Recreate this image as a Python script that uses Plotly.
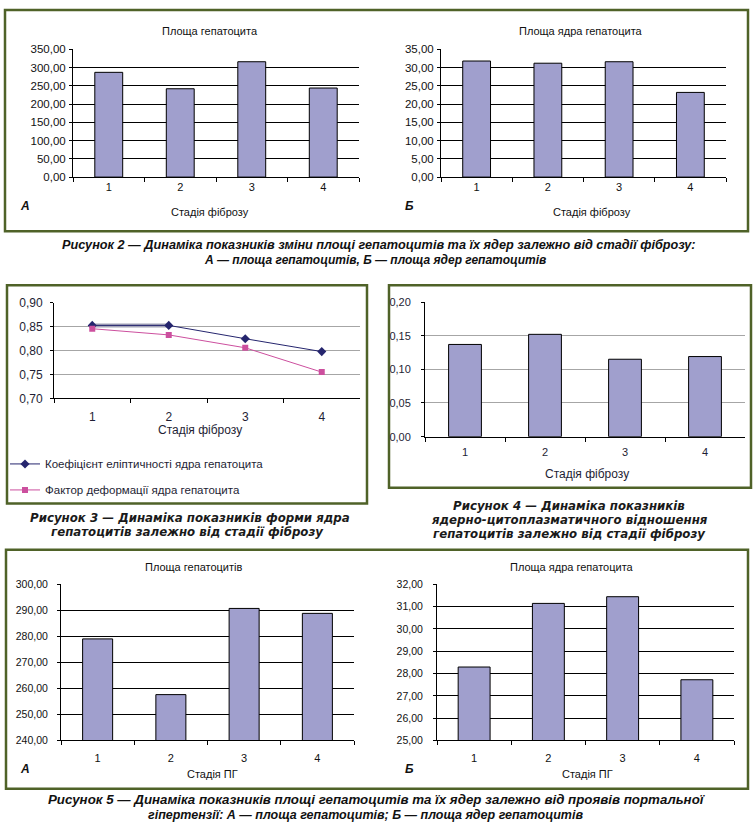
import plotly.graph_objects as go

W, H = 754, 833

# ---------------- data ----------------
stages = ["1", "2", "3", "4"]
hep_area_fib = [287, 242, 316, 244]          # Рис.2 А
nuc_area_fib = [31.8, 31.2, 31.6, 23.2]      # Рис.2 Б
ellipt_coef = [0.853, 0.853, 0.825, 0.798]   # Рис.3 series 1
deform_factor = [0.846, 0.833, 0.806, 0.755] # Рис.3 series 2
nc_ratio = [0.137, 0.152, 0.115, 0.119]      # Рис.4
hep_area_pg = [279.0, 257.6, 290.7, 288.8]   # Рис.5 А
nuc_area_pg = [28.29, 31.14, 31.44, 27.72]   # Рис.5 Б

BAR = "#a09fcd"
BORDER = "#4f6228"
FONT = "Liberation Sans, Arial, sans-serif"
CAPFONT = "Liberation Sans, Arial, sans-serif"
CAPFONT_W = "DejaVu Sans, Verdana, sans-serif"


def px(x):
    return x / W


def py(y):
    return 1 - y / H


fig = go.Figure()

# plot areas (pixel boxes: left, right, top, bottom)
areas = {
    1: (73, 359, 43, 173),
    2: (441, 726, 43, 173),
    3: (54, 360, 301, 398),
    4: (425, 745, 300, 437),
    5: (61, 354, 587, 746),
    6: (437, 734, 587, 746),
}


def bar(i, vals, width=0.4):
    fig.add_trace(go.Bar(x=stages, y=vals, marker=dict(color=BAR, line=dict(color="black", width=1)),
                         width=width, showlegend=False, xaxis=f"x{i}", yaxis=f"y{i}", hoverinfo="x+y"))


bar(1, hep_area_fib, 0.39)
bar(2, nuc_area_fib, 0.39)
bar(4, nc_ratio, 0.41)
bar(5, hep_area_pg, 0.41)
bar(6, nuc_area_pg, 0.43)

# Рис.3 lines
fig.add_trace(go.Scatter(x=stages[:2], y=ellipt_coef[:2], mode="lines", line=dict(color="#a3a3b8", width=4),
                         showlegend=False, xaxis="x3", yaxis="y3", hoverinfo="skip"))
fig.add_trace(go.Scatter(x=stages, y=ellipt_coef, mode="lines+markers", name="Коефіцієнт еліптичності ядра гепатоцита",
                         line=dict(color="#25256e", width=1), marker=dict(symbol="diamond", size=7, color="#25256e"),
                         legendgroup="a", xaxis="x3", yaxis="y3"))
fig.add_trace(go.Scatter(x=stages, y=deform_factor, mode="lines+markers", name="Фактор деформації ядра гепатоцита",
                         line=dict(color="#cc4f9e", width=1), marker=dict(symbol="square", size=6, color="#cc4f9e"),
                         legendgroup="b", xaxis="x3", yaxis="y3"))

yranges = {1: (0, 350, 50), 2: (0, 35, 5), 3: (0.70, 0.90, 0.05), 4: (0, 0.20, 0.05),
           5: (240, 300, 10), 6: (25, 32, 1)}
ytick_size = {1: 11.5, 2: 11.5, 3: 12, 4: 11, 5: 10.5, 6: 10.5}
ystand = {1: 1, 2: 1, 3: 5, 4: 8, 5: 7, 6: 8}
xstand = {1: 0, 2: 0, 3: 7, 4: 5, 5: 7, 6: 7}

layout = {}
for i, (l, r, t, b) in areas.items():
    grid = "black" if i in (1, 2, 5, 6) else "#a6a6a6"
    tcol = "#111111" if i in (1, 2, 5, 6) else "#1e1e34"
    lo, hi, d = yranges[i]
    eps = (hi - lo) * 0.0005
    layout[f"xaxis{i}"] = dict(domain=[px(l), px(r)], anchor=f"y{i}", type="category",
                               tickson="boundaries", ticks="outside", ticklen=4, tickcolor="black",
                               showline=True, linecolor="black", linewidth=1, showgrid=False,
                               ticklabelstandoff=xstand[i],
                               tickfont=dict(family=FONT, size=12 if i == 3 else 11, color=tcol),
                               range=[-0.5, 3.5], fixedrange=True)
    layout[f"yaxis{i}"] = dict(domain=[py(b), py(t)], anchor=f"x{i}", range=[lo, hi + eps],
                               tick0=lo, dtick=d, tickformat=".2f", ticks="outside", ticklen=3,
                               tickcolor="black", showline=True, linecolor="black", linewidth=1,
                               showgrid=True, gridcolor=grid, gridwidth=1, zeroline=False,
                               ticklabelstandoff=ystand[i],
                               tickfont=dict(family=FONT, size=ytick_size[i], color=tcol),
                               fixedrange=True)

# boxes
shapes = []
for (l, t, r, b) in [(5, 3, 748, 228), (7, 283, 367, 505), (389, 283, 751, 489), (6, 552, 748, 795)]:
    shapes.append(dict(type="rect", xref="paper", yref="paper", x0=px(l), x1=px(r), y0=py(b), y1=py(t),
                       line=dict(color=BORDER, width=2.5), layer="below"))

ann = []


def text(x, y, s, size=11, family=FONT, color="#111111", bold=False, italic=False):
    if bold:
        s = f"<b>{s}</b>"
    if italic:
        s = f"<i>{s}</i>"
    ann.append(dict(x=px(x), y=py(y), xref="paper", yref="paper", text=s, showarrow=False,
                    font=dict(family=family, size=size, color=color), xanchor="center", yanchor="middle"))


# chart titles
text(210, 24, "Площа гепатоцита")
text(581, 24, "Площа ядра гепатоцита")
text(193, 570, "Площа гепатоцитів")
text(572, 570, "Площа ядра гепатоцита")
# axis titles
text(210, 209, "Стадія фіброзу")
text(592, 209, "Стадія фіброзу")
text(200, 430, "Стадія фіброзу", size=12, color="#1e1e34")
text(587, 475, "Стадія фіброзу", size=12, color="#1e1e34")
text(212, 780, "Стадія ПГ")
text(587, 780, "Стадія ПГ")
# panel letters
text(25, 202, "А", size=12, bold=True, italic=True)
text(410, 202, "Б", size=12, bold=True, italic=True)
text(25, 775, "А", size=12, bold=True, italic=True)
text(410, 775, "Б", size=12, bold=True, italic=True)

# captions
text(379, 242, "Рисунок 2 — Динаміка показників зміни площі гепатоцитів та їх ядер залежно від стадії фіброзу:",
     size=12.7, family=CAPFONT, bold=True, italic=True)
text(375, 257, "А — площа гепатоцитів, Б — площа ядер гепатоцитів",
     size=12, family=CAPFONT, bold=True, italic=True)
text(190, 519.5, "Рисунок 3 — Динаміка показників форми ядра", size=11.8, family=CAPFONT_W,
     bold=True, italic=True, color="#1a1a1a")
text(187, 533.5, "гепатоцитів залежно від стадії фіброзу", size=11.8, family=CAPFONT_W,
     bold=True, italic=True, color="#1a1a1a")
text(569, 508, "Рисунок 4 — Динаміка показників", size=11.8, family=CAPFONT_W,
     bold=True, italic=True, color="#1a1a1a")
text(569, 522, "ядерно-цитоплазматичного відношення", size=11.8, family=CAPFONT_W,
     bold=True, italic=True, color="#1a1a1a")
text(569, 536, "гепатоцитів залежно від стадії фіброзу", size=11.8, family=CAPFONT_W,
     bold=True, italic=True, color="#1a1a1a")
text(377, 806, "Рисунок 5 — Динаміка показників площі гепатоцитів та їх ядер залежно від проявів портальної",
     size=13.3, family=CAPFONT, bold=True, italic=True)
text(365, 822, "гіпертензії: А — площа гепатоцитів; Б — площа ядер гепатоцитів",
     size=12.5, family=CAPFONT, bold=True, italic=True)

fig.update_layout(
    width=W, height=H, margin=dict(l=0, r=0, t=0, b=0),
    paper_bgcolor="white", plot_bgcolor="white", separators=",.",
    shapes=shapes, annotations=ann, bargap=0.6,
    legend=dict(x=px(5), y=py(450), xanchor="left", yanchor="top", bgcolor="rgba(0,0,0,0)",
                font=dict(family=FONT, size=11.5, color="#1e1e34"), itemwidth=30, tracegroupgap=7,
                traceorder="grouped"),
    **layout,
)

fig.write_html("out.html", config={"displayModeBar": False},
               post_script="document.body.style.margin='0';document.body.style.overflow='hidden';")
